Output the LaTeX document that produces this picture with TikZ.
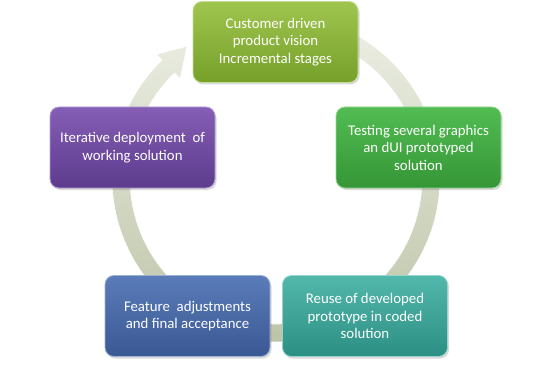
\documentclass[tikz,border=0pt]{standalone}
\usepackage{fontspec}
\setmainfont{Carlito}
\usetikzlibrary{shadows}
\definecolor{ringtop}{HTML}{ECEFE4}
\definecolor{ringbot}{HTML}{BEC4A8}
\definecolor{gAt}{HTML}{9FC54E}
\definecolor{gAb}{HTML}{76A02A}
\definecolor{gBt}{HTML}{52BC52}
\definecolor{gBb}{HTML}{359636}
\definecolor{tlt}{HTML}{52B8AB}
\definecolor{tlb}{HTML}{2C8F83}
\definecolor{blt}{HTML}{5A7CB8}
\definecolor{blb}{HTML}{3A5894}
\definecolor{put}{HTML}{855EB5}
\definecolor{pub}{HTML}{5C3B8C}
\tikzset{
  stage/.style={rounded corners=9pt, minimum width=165pt, minimum height=81pt,
    align=center, text=white, inner sep=2pt,
    font=\fontsize{14.8}{17.5}\selectfont, line width=0.8pt,
    drop shadow={opacity=0.3, shadow xshift=1.5pt, shadow yshift=-2pt}},
  ringstyle/.style={top color=ringtop, bottom color=ringbot, draw=white, line width=0.6pt}
}
\begin{document}
\begin{tikzpicture}[x=1pt,y=1pt]
\useasboundingbox (0,0) rectangle (547,365);
% circular arrow
\begin{scope}[shift={(276,187)}]
\shade[ringstyle]
  (90:164) arc[start angle=90, end angle=-226, radius=164]
  -- (-226:172) -- (-236:159) -- (-226:138) -- (-226:146)
  arc[start angle=-226, end angle=90, radius=146] -- cycle;
\end{scope}
% stages
\node[stage, top color=gAt, bottom color=gAb, draw=gAt!60!white] (vision) at (275.5,323)
  {Customer driven\\product vision\\Incremental stages};
\node[stage, top color=gBt, bottom color=gBb, draw=gBt!60!white] (testing) at (418.5,217.5)
  {Testing several graphics\\an dUI prototyped\\solution};
\node[stage, top color=tlt, bottom color=tlb, draw=tlt!60!white] (reuse) at (365,49)
  {Reuse of developed\\prototype in coded\\solution};
\node[stage, top color=blt, bottom color=blb, draw=blt!60!white] (feature) at (187.5,49)
  {Feature\ \ adjustments\\and final acceptance};
\node[stage, top color=put, bottom color=pub, draw=put!60!white] (deploy) at (132.5,217.5)
  {Iterative deployment\ \ of\\working solution};
\end{tikzpicture}
\end{document}
